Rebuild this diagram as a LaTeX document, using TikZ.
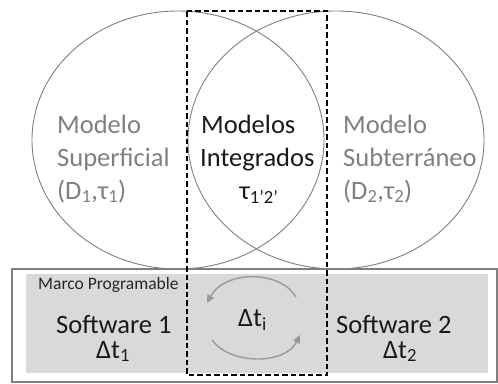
\documentclass[tikz,border=0pt]{standalone}
\usepackage{fontspec}
\setmainfont{Carlito}
\usetikzlibrary{arrows.meta}
\definecolor{lgray}{HTML}{7F7F7F}
\definecolor{fillgray}{HTML}{D9D9D9}
\definecolor{arrgray}{HTML}{9A9A9A}
\begin{document}
\begin{tikzpicture}[x=1pt,y=-1pt,
  big/.style={inner sep=0pt,font=\fontsize{26.5}{32}\selectfont},
  side/.style={big,text=lgray,anchor=base west},
  mid/.style={big,text=black!90},
  ell/.style={draw=lgray,line width=0.9pt},
  cyc/.style={draw=arrgray,line width=1.4pt,-{Triangle[length=8pt,width=7.5pt]}}]
\useasboundingbox (0,0) rectangle (498,383);
% bottom frame
\draw[draw=lgray,line width=1.5pt] (12,269) rectangle (497,382);
\fill[fillgray] (26,274) rectangle (488,373);
% ellipses
\draw[ell] (178,140) ellipse [x radius=146, y radius=129];
\draw[ell] (336,140) ellipse [x radius=148, y radius=129];
% dashed rectangle
\draw[line width=1.3pt,dash pattern=on 5.5pt off 3pt] (187,11) rectangle (327,375);
% texts
\node[side] (m1a) at (57,133) {Modelo};
\node[side] (m1b) at (57,166) {Superficial};
\node[side] (m1c) at (57,199) {(D\textsubscript{1},τ\textsubscript{1})};
\node[mid,anchor=base west] (mia) at (201,133) {Modelos};
\node[mid,anchor=base west] (mib) at (200,166) {Integrados};
\node[mid,anchor=base] (mic) at (259,199) {τ\textsubscript{1’2’}};
\node[side] (m2a) at (343,133) {Modelo};
\node[side] (m2b) at (343,166) {Subterráneo};
\node[side] (m2c) at (343,199) {(D\textsubscript{2},τ\textsubscript{2})};
\node[inner sep=0pt,anchor=base west,font=\fontsize{17.5}{21}\selectfont,text=black!85] (marco) at (38,289) {Marco Programable};
\node[mid,anchor=base west] (s1) at (56,333) {Software 1};
\node[mid,anchor=base west] (d1) at (96,358) {Δt\textsubscript{1}};
\node[mid,anchor=base west] (s2) at (336,333) {Software 2};
\node[mid,anchor=base west] (d2) at (383,358) {Δt\textsubscript{2}};
\node[mid,anchor=base west] (di) at (238,326) {Δt\textsubscript{i}};
% cycle arrows
\coordinate (a1) at (296,297);
\coordinate (a2) at (207,303);
\coordinate (b1) at (212,340);
\coordinate (b2) at (300,335);
\draw[cyc] (a1) .. controls (280,270) and (225,270) .. (a2);
\draw[cyc] (b1) .. controls (230,365) and (285,365) .. (b2);
\end{tikzpicture}
\end{document}
